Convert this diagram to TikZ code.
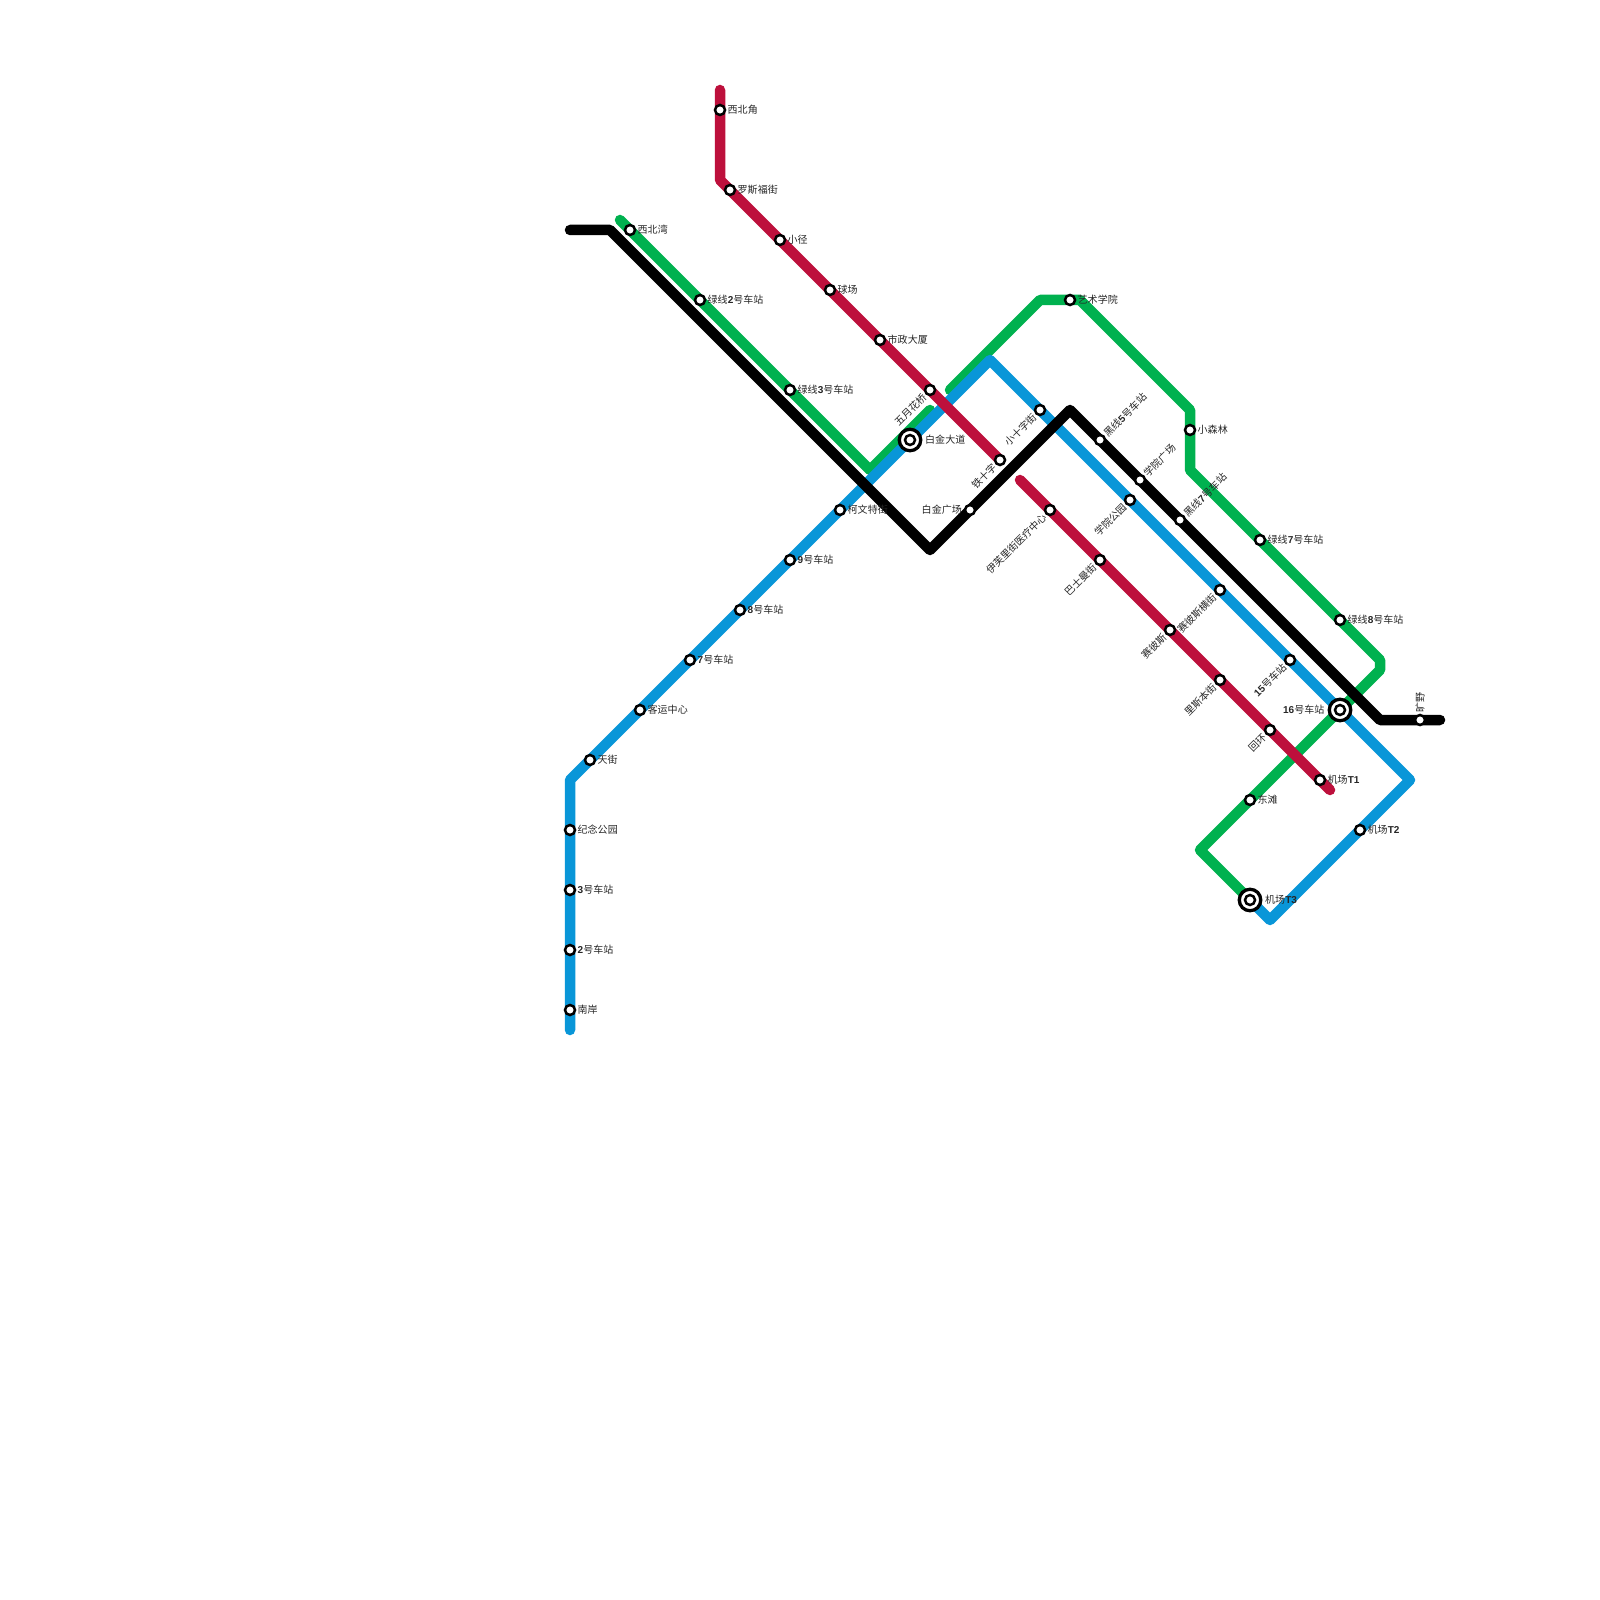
\documentclass[tikz,border=0pt]{standalone}
\usepackage{fontspec}
\usepackage{xcolor}
\usetikzlibrary{positioning, backgrounds}
\setmainfont{Noto Sans CJK SC}
\newfontfamily\latnfont{Liberation Sans}
\newcommand{\lnum}[1]{{\latnfont\bfseries #1}}
\definecolor{linered}{RGB}{189, 16, 60}
\definecolor{linegreen}{RGB}{0, 177, 79}
\definecolor{lineblue}{RGB}{9, 150, 216}

\begin{document}
\begin{tikzpicture}[
    x=1cm, y=-1cm,
    stn/.style={circle, draw=black, fill=white, line width=0.025cm, minimum size=0.1cm, inner sep=0pt},
    hub/.style={circle, draw=black, fill=white, line width=0.033cm, minimum size=0.215cm, inner sep=0pt},
    metro/.style={line width=0.105cm, line cap=round, line join=round},
    lbl/.style={font=\fontsize{2.85}{3.4}\selectfont, inner sep=0pt, text=black!85},
    lblright/.style={lbl, anchor=west, xshift=0.07cm},
    lblleft/.style={lbl, anchor=east, xshift=-0.075cm},
    lblup/.style={lbl, anchor=west, rotate=45, xshift=0.07cm},
    lbldown/.style={lbl, anchor=east, rotate=45, xshift=-0.07cm}
]
\useasboundingbox (0,0) rectangle (16,16);

% Bends and free ends
\coordinate (redA) at (7.2,0.9);
\coordinate (redB) at (7.2,1.8);
\coordinate (redC) at (10.2,4.8);
\coordinate (redD) at (13.3,7.9);
\coordinate (greenA) at (6.2,2.2);
\coordinate (greenB) at (8.7,4.7);
\coordinate (greenC) at (9.3,4.1);
\coordinate (greenD) at (9.5,3.9);
\coordinate (greenE) at (10.4,3.0);
\coordinate (greenF) at (10.8,3.0);
\coordinate (greenG) at (11.9,4.1);
\coordinate (greenH) at (11.9,4.7);
\coordinate (greenI) at (13.8,6.6);
\coordinate (greenJ) at (13.8,6.7);
\coordinate (greenK) at (12.0,8.5);
\coordinate (blueA) at (5.7,10.3);
\coordinate (blueB) at (5.7,7.8);
\coordinate (blueC) at (9.9,3.6);
\coordinate (blueD) at (14.1,7.8);
\coordinate (blueE) at (12.7,9.2);
\coordinate (blackA) at (5.7,2.3);
\coordinate (blackB) at (6.1,2.3);
\coordinate (blackC) at (9.3,5.5);
\coordinate (blackD) at (10.7,4.1);
\coordinate (blackE) at (13.8,7.2);
\coordinate (blackF) at (14.4,7.2);

% Red line stations
\node[stn] (xibeijiao) at (7.2,1.1) {};
\node[stn] (luosifu) at (7.3,1.9) {};
\node[stn] (xiaojing) at (7.8,2.4) {};
\node[stn] (qiuchang) at (8.3,2.9) {};
\node[stn] (shizheng) at (8.8,3.4) {};
\node[stn] (wuyue) at (9.3,3.9) {};
\node[stn] (tieshizi) at (10.0,4.6) {};
\node[stn] (yifuli) at (10.5,5.1) {};
\node[stn] (bashiman) at (11.0,5.6) {};
\node[stn] (saibisi) at (11.7,6.3) {};
\node[stn] (lisiben) at (12.2,6.8) {};
\node[stn] (huihuan) at (12.7,7.3) {};
\node[stn] (jichangA) at (13.2,7.8) {};

% Green line stations
\node[stn] (xibeiwan) at (6.3,2.3) {};
\node[stn] (greentwo) at (7.0,3.0) {};
\node[stn] (greenthree) at (7.9,3.9) {};
\node[stn] (yishu) at (10.7,3.0) {};
\node[stn] (xiaosenlin) at (11.9,4.3) {};
\node[stn] (greenseven) at (12.6,5.4) {};
\node[stn] (greeneight) at (13.4,6.2) {};
\node[stn] (dongtan) at (12.5,8.0) {};

% Blue line stations
\node[stn] (nanan) at (5.7,10.1) {};
\node[stn] (bluetwo) at (5.7,9.5) {};
\node[stn] (bluethree) at (5.7,8.9) {};
\node[stn] (jinian) at (5.7,8.3) {};
\node[stn] (tianjie) at (5.9,7.6) {};
\node[stn] (keyun) at (6.4,7.1) {};
\node[stn] (blueseven) at (6.9,6.6) {};
\node[stn] (blueeight) at (7.4,6.1) {};
\node[stn] (bluenine) at (7.9,5.6) {};
\node[stn] (kewen) at (8.4,5.1) {};
\node[hub] (baijin) at (9.1,4.4) {};
\node[stn] (baijinin) at (9.1,4.4) {};
\node[stn] (xiaoshizi) at (10.4,4.1) {};
\node[stn] (xueyuan) at (11.3,5.0) {};
\node[stn] (saibisiheng) at (12.2,5.9) {};
\node[stn] (bluefifteen) at (12.9,6.6) {};
\node[hub] (bluesixteen) at (13.4,7.1) {};
\node[stn] (bluesixteenin) at (13.4,7.1) {};
\node[stn] (jichangB) at (13.6,8.3) {};
\node[hub] (jichangC) at (12.5,9.0) {};
\node[stn] (jichangCin) at (12.5,9.0) {};

% Black line stations
\node[stn] (baijinsq) at (9.7,5.1) {};
\node[stn] (blackfive) at (11.0,4.4) {};
\node[stn] (xueyuansq) at (11.4,4.8) {};
\node[stn] (blackseven) at (11.8,5.2) {};
\node[stn] (kuangye) at (14.2,7.2) {};

% Lines
\begin{scope}[on background layer]
\draw[metro, linegreen] (greenA) -- (xibeiwan.center) -- (greentwo.center) -- (greenthree.center) -- (greenB) -- (greenC);
\draw[metro, linegreen] (greenD) -- (greenE) -- (greenF) -- (greenG) -- (xiaosenlin.center) -- (greenH) -- (greenseven.center) -- (greeneight.center) -- (greenI) -- (greenJ) -- (bluesixteen.center) -- (dongtan.center) -- (greenK) -- (jichangC.center);
\draw[metro, lineblue] (blueA) -- (nanan.center) -- (bluetwo.center) -- (bluethree.center) -- (jinian.center) -- (blueB) -- (tianjie.center) -- (keyun.center) -- (blueseven.center) -- (blueeight.center) -- (bluenine.center) -- (kewen.center) -- (baijin.center) -- (blueC) -- (xiaoshizi.center) -- (xueyuan.center) -- (saibisiheng.center) -- (bluefifteen.center) -- (bluesixteen.center) -- (blueD) -- (jichangB.center) -- (blueE) -- (jichangC.center);
\draw[metro, black] (blackA) -- (blackB) -- (blackC) -- (baijinsq.center) -- (blackD) -- (blackfive.center) -- (xueyuansq.center) -- (blackseven.center) -- (blackE) -- (kuangye.center) -- (blackF);
\draw[metro, linered] (redA) -- (xibeijiao.center) -- (redB) -- (luosifu.center) -- (xiaojing.center) -- (qiuchang.center) -- (shizheng.center) -- (wuyue.center) -- (tieshizi.center);
\draw[metro, linered] (redC) -- (yifuli.center) -- (bashiman.center) -- (saibisi.center) -- (lisiben.center) -- (huihuan.center) -- (jichangA.center) -- (redD);
\end{scope}

% Labels
\node[lblright] (xibeijiaoL) at (xibeijiao) {西北角};
\node[lblright] (luosifuL) at (luosifu) {罗斯福街};
\node[lblright] (xiaojingL) at (xiaojing) {小径};
\node[lblright] (qiuchangL) at (qiuchang) {球场};
\node[lblright] (shizhengL) at (shizheng) {市政大厦};
\node[lbldown] (wuyueL) at (wuyue) {五月花桥};
\node[lbldown] (tieshiziL) at (tieshizi) {铁十字};
\node[lbldown] (yifuliL) at (yifuli) {伊芙里街医疗中心};
\node[lbldown] (bashimanL) at (bashiman) {巴士曼街};
\node[lbldown] (saibisiL) at (saibisi) {赛彼斯};
\node[lbldown] (lisibenL) at (lisiben) {里斯本街};
\node[lbldown] (huihuanL) at (huihuan) {回环};
\node[lblright] (jichangAL) at (jichangA) {机场\lnum{T1}};

\node[lblright] (xibeiwanL) at (xibeiwan) {西北湾};
\node[lblright] (greentwoL) at (greentwo) {绿线\lnum{2}号车站};
\node[lblright] (greenthreeL) at (greenthree) {绿线\lnum{3}号车站};
\node[lblright] (yishuL) at (yishu) {艺术学院};
\node[lblright] (xiaosenlinL) at (xiaosenlin) {小森林};
\node[lblright] (greensevenL) at (greenseven) {绿线\lnum{7}号车站};
\node[lblright] (greeneightL) at (greeneight) {绿线\lnum{8}号车站};
\node[lblright] (dongtanL) at (dongtan) {东滩};

\node[lblright] (nananL) at (nanan) {南岸};
\node[lblright] (bluetwoL) at (bluetwo) {\lnum{2}号车站};
\node[lblright] (bluethreeL) at (bluethree) {\lnum{3}号车站};
\node[lblright] (jinianL) at (jinian) {纪念公园};
\node[lblright] (tianjieL) at (tianjie) {天街};
\node[lblright] (keyunL) at (keyun) {客运中心};
\node[lblright] (bluesevenL) at (blueseven) {\lnum{7}号车站};
\node[lblright] (blueeightL) at (blueeight) {\lnum{8}号车站};
\node[lblright] (bluenineL) at (bluenine) {\lnum{9}号车站};
\node[lblright] (kewenL) at (kewen) {柯文特街};
\node[lblright, xshift=0.075cm] (baijinL) at (baijin) {白金大道};
\node[lbldown] (xiaoshiziL) at (xiaoshizi) {小十字街};
\node[lbldown] (xueyuanL) at (xueyuan) {学院公园};
\node[lbldown] (saibisihengL) at (saibisiheng) {赛彼斯横街};
\node[lbldown] (bluefifteenL) at (bluefifteen) {\lnum{15}号车站};
\node[lblleft, xshift=-0.075cm] (bluesixteenL) at (bluesixteen) {\lnum{16}号车站};
\node[lblright] (jichangBL) at (jichangB) {机场\lnum{T2}};
\node[lblright, xshift=0.075cm] (jichangCL) at (jichangC) {机场\lnum{T3}};

\node[lblleft] (baijinsqL) at (baijinsq) {白金广场};
\node[lblup] (blackfiveL) at (blackfive) {黑线\lnum{5}号车站};
\node[lblup] (xueyuansqL) at (xueyuansq) {学院广场};
\node[lblup] (blacksevenL) at (blackseven) {黑线\lnum{7}号车站};
\node[lbl, anchor=west, rotate=90, xshift=0.07cm] (kuangyeL) at (kuangye) {旷野};
\end{tikzpicture}
\end{document}
